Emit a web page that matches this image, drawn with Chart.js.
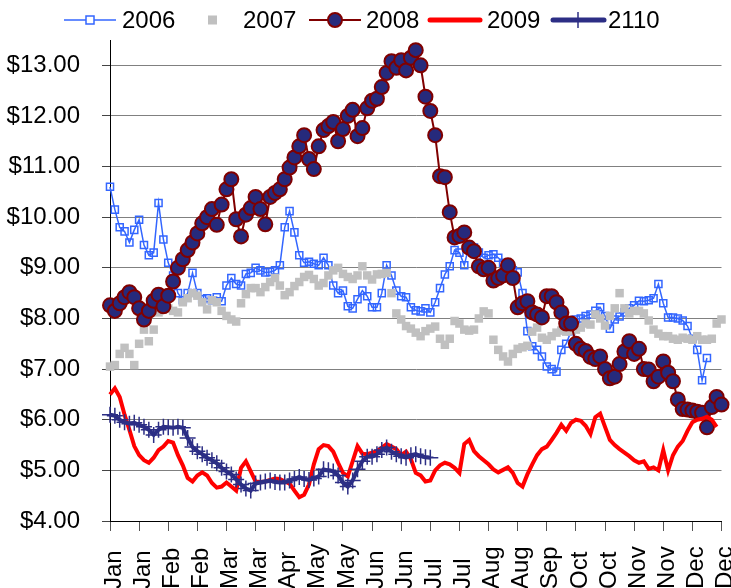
<!DOCTYPE html>
<html>
<head>
<meta charset="utf-8">
<script src="https://cdn.jsdelivr.net/npm/chart.js@4.4.0/dist/chart.umd.min.js"></script>
<style>
  html, body { margin: 0; padding: 0; background: #fff; }
</style>
</head>
<body>
<canvas id="priceChart" width="731" height="588"></canvas>
<script>
// tick labels, one every 6 points (roughly every half month)
const monthTicks = ["Jan", "Jan", "Feb", "Feb", "Mar", "Mar", "Apr", "May", "May", "Jun", "Jun",
  "Jul", "Jul", "Aug", "Aug", "Sep", "Oct", "Oct", "Nov", "Nov", "Dec", "Dec"];
const pointsPerTick = 6;

const price2006 = [10.6, 10.15, 9.8, 9.72, 9.5, 9.75, 9.95, 9.45, 9.25, 9.3,
  10.28, 9.56, 9.1, 8.85, 8.5, 8.36, 8.5, 8.9, 8.5, 8.38,
  8.4, 8.36, 8.42, 8.34, 8.65, 8.8, 8.68, 8.65, 8.88, 8.9,
  9.0, 8.95, 8.91, 8.92, 8.95, 9.05, 9.8, 10.12, 9.7, 9.25,
  9.1, 9.12, 9.08, 9.05, 9.2, 9.05, 8.65, 8.5, 8.55, 8.24,
  8.2, 8.38, 8.55, 8.44, 8.22, 8.22, 8.5, 9.05, 8.85, 8.55,
  8.44, 8.42, 8.22, 8.16, 8.14, 8.2, 8.12, 8.32, 8.6, 8.87,
  9.03, 9.35, 9.3, 9.05, 9.45, 9.4, 9.3, 9.2, 9.25, 9.27,
  9.2, 9.1, 9.0, 8.95, 8.91, 8.5, 7.75, 7.45, 7.38, 7.25,
  7.05, 7.0, 6.95, 7.38, 7.5, 7.75, 7.98, 8.0, 8.05, 8.08,
  8.15, 8.22, 8.05, 7.8, 7.98, 8.04, 8.12, 8.2, 8.26, 8.35,
  8.34, 8.36, 8.4, 8.68, 8.3, 8.02, 8.02, 8.0, 7.96, 7.85,
  7.6, 7.38, 6.78, 7.22];

const price2007 = [7.05, 7.08, 7.3, 7.42, 7.3, 7.08, 7.5, 7.78, 7.55, 7.78,
  8.12, 8.3, 8.2, 8.15, 8.12, 8.32, 8.4, 8.5, 8.45, 8.32,
  8.18, 8.36, 8.32, 8.15, 8.05, 7.98, 7.94, 8.3, 8.48, 8.6,
  8.6, 8.52, 8.62, 8.72, 8.8, 8.65, 8.46, 8.52, 8.64, 8.72,
  8.82, 8.86, 8.78, 8.65, 8.7, 8.85, 8.95, 9.0, 8.88, 8.82,
  8.78, 8.85, 9.03, 8.85, 8.77, 8.87, 8.88, 8.9, 8.5, 8.1,
  7.98, 7.85, 7.8, 7.72, 7.65, 7.75, 7.8, 7.84, 7.6, 7.48,
  7.6, 7.95, 7.9, 7.78, 7.76, 7.78, 8.0, 8.14, 8.1, 7.58,
  7.38, 7.25, 7.15, 7.3, 7.4, 7.43, 7.46, 7.74, 7.82, 7.62,
  7.58, 7.65, 7.72, 7.76, 7.74, 7.76, 7.78, 7.82, 7.9, 7.88,
  8.08, 8.0, 7.86, 8.05, 8.2, 8.5, 8.2, 8.1, 8.15, 8.15,
  8.1, 7.96, 7.78, 7.7, 7.65, 7.65, 7.6, 7.58, 7.62, 7.6,
  7.58, 7.65, 7.58, 7.58, 7.6, 7.9, 7.98];

const price2008 = [8.26, 8.15, 8.3, 8.42, 8.52, 8.42, 8.2, 7.98, 8.15, 8.35,
  8.47, 8.24, 8.45, 8.73, 9.0, 9.17, 9.35, 9.5, 9.68, 9.88,
  10.0, 10.16, 9.85, 10.25, 10.55, 10.75, 9.96, 9.62, 10.05, 10.18,
  10.4, 10.16, 9.86, 10.4, 10.48, 10.55, 10.75, 10.98, 11.18, 11.4,
  11.62, 11.15, 10.95, 11.4, 11.72, 11.8, 11.88, 11.5, 11.74, 12.0,
  12.12, 11.6, 11.76, 12.15, 12.3, 12.34, 12.57, 12.85, 13.08, 12.95,
  13.1, 12.9, 13.15, 13.3, 13.0, 12.38, 12.1, 11.62, 10.81, 10.79,
  10.1, 9.6, 9.63, 9.7, 9.4, 9.33, 9.03, 8.97, 9.0, 8.75,
  8.8, 8.85, 9.05, 8.8, 8.22, 8.3, 8.34, 8.12, 8.08, 8.02,
  8.44, 8.44, 8.32, 8.12, 7.9, 7.9, 7.5, 7.4, 7.36, 7.24,
  7.2, 7.25, 7.0, 6.82, 6.85, 7.1, 7.35, 7.55, 7.3, 7.4,
  7.0, 6.99, 6.76, 6.85, 7.15, 6.93, 6.76, 6.4, 6.21, 6.2,
  6.18, 6.16, 6.14, 5.85, 6.25, 6.45, 6.3];

const price2009 = [6.5, 6.62, 6.45, 6.1, 5.8, 5.48, 5.3, 5.2, 5.15, 5.25,
  5.4, 5.47, 5.58, 5.55, 5.3, 5.1, 4.85, 4.78, 4.9, 4.96,
  4.9, 4.75, 4.66, 4.68, 4.76, 4.68, 4.6, 5.05, 5.18, 4.98,
  4.78, 4.77, 4.78, 4.81, 4.84, 4.83, 4.78, 4.74, 4.6, 4.47,
  4.52, 4.72, 5.12, 5.42, 5.5, 5.48, 5.37, 5.15, 4.95, 4.88,
  5.18, 5.48, 5.33, 5.32, 5.35, 5.38, 5.45, 5.52, 5.47, 5.42,
  5.3, 5.37, 5.22, 4.95, 4.9, 4.78, 4.8, 5.0, 5.1, 5.15,
  5.12, 5.05, 4.95, 5.52, 5.6, 5.38, 5.28, 5.2, 5.12, 5.02,
  4.96, 5.01, 5.06, 4.95, 4.75, 4.68, 4.92, 5.12, 5.3, 5.42,
  5.47, 5.6, 5.74, 5.9, 5.78, 5.94, 6.0, 5.98, 5.88, 5.72,
  6.05, 6.12, 5.86, 5.6, 5.5, 5.42, 5.35, 5.28, 5.2, 5.15,
  5.18, 5.03, 5.06, 5.0, 5.4, 5.0, 5.3, 5.47, 5.58, 5.78,
  5.95, 6.0, 6.02, 6.06, 6.0, 5.86];

const price2110 = [6.1, 6.08, 6.0, 5.95, 5.92, 5.94, 5.9, 5.86, 5.8, 5.7,
  5.8, 5.86, 5.85, 5.84, 5.86, 5.84, 5.64, 5.46, 5.38, 5.32,
  5.25, 5.2, 5.14, 5.05, 4.98, 4.92, 4.82, 4.72, 4.64, 4.6,
  4.74, 4.76, 4.78, 4.8, 4.77, 4.76, 4.76, 4.8, 4.83, 4.87,
  4.83, 4.81, 4.84, 4.88, 5.02, 5.0, 4.98, 4.9, 4.76, 4.68,
  4.8, 5.02, 5.18, 5.27, 5.27, 5.32, 5.4, 5.45, 5.37, 5.32,
  5.28, 5.25, 5.3, 5.32, 5.28, 5.26, 5.25];

const FONT = "'Liberation Sans', Arial, sans-serif";
const toPoints = (arr) => arr.map((v, i) => ({ x: i, y: v }));

// legend drawn like the Excel one: line sample with the marker in the middle
const legendPlugin = {
  id: "excelLegend",
  afterDraw(chart) {
    const ctx = chart.ctx;
    const y = 20;
    ctx.save();
    ctx.font = "24px " + FONT;
    ctx.textBaseline = "middle";
    ctx.textAlign = "left";

    // 2006
    ctx.strokeStyle = "#3366ff";
    ctx.lineWidth = 1.5;
    ctx.beginPath(); ctx.moveTo(64, y); ctx.lineTo(116, y); ctx.stroke();
    ctx.fillStyle = "#fff";
    ctx.fillRect(86, y - 4, 8, 8);
    ctx.strokeRect(86, y - 4, 8, 8);
    // 2007
    ctx.fillStyle = "#c0c0c0";
    ctx.fillRect(208, y - 4.5, 9, 9);
    // 2008
    ctx.strokeStyle = "#800000";
    ctx.lineWidth = 2;
    ctx.beginPath(); ctx.moveTo(309, y); ctx.lineTo(361, y); ctx.stroke();
    ctx.fillStyle = "#262a7c";
    ctx.beginPath(); ctx.arc(335, y, 7, 0, Math.PI * 2); ctx.fill(); ctx.stroke();
    // 2009
    ctx.lineCap = "round";
    ctx.strokeStyle = "#ff0000";
    ctx.lineWidth = 5;
    ctx.beginPath(); ctx.moveTo(430, y); ctx.lineTo(480, y); ctx.stroke();
    // 2110
    ctx.strokeStyle = "#2c2e85";
    ctx.beginPath(); ctx.moveTo(553, y); ctx.lineTo(604, y); ctx.stroke();
    ctx.lineCap = "butt";
    ctx.lineWidth = 1.5;
    ctx.beginPath(); ctx.moveTo(578, y - 8); ctx.lineTo(578, y + 8); ctx.stroke();

    ctx.fillStyle = "#000";
    ctx.fillText("2006", 122, y + 1);
    ctx.fillText("2007", 243, y + 1);
    ctx.fillText("2008", 366, y + 1);
    ctx.fillText("2009", 487, y + 1);
    ctx.fillText("2110", 608, y + 1);
    ctx.restore();
  }
};

// rotated month labels, start of each word sits at the bottom edge
const monthLabelPlugin = {
  id: "monthLabels",
  afterDraw(chart) {
    const xs = chart.scales.x;
    const ctx = chart.ctx;
    ctx.save();
    ctx.font = "24px " + FONT;
    ctx.fillStyle = "#000";
    ctx.textAlign = "left";
    ctx.textBaseline = "middle";
    xs.ticks.forEach((t) => {
      const label = monthTicks[Math.round(t.value / pointsPerTick)];
      if (!label) return;
      ctx.save();
      ctx.translate(xs.getPixelForValue(t.value) + 4, 589);
      ctx.rotate(-Math.PI / 2);
      ctx.fillText(label, 0, 0);
      ctx.restore();
    });
    ctx.restore();
  }
};

const ctx = document.getElementById("priceChart").getContext("2d");
const priceChart = new Chart(ctx, {
  type: "line",
  data: {
    datasets: [
      {
        label: "2006",
        data: toPoints(price2006),
        borderColor: "#3366ff",
        borderWidth: 1.5,
        pointStyle: "rect",
        pointRadius: 5,
        pointBorderWidth: 1.5,
        pointBorderColor: "#3366ff",
        pointBackgroundColor: "rgba(255,255,255,0)",
        order: 5,
      },
      {
        label: "2007",
        data: toPoints(price2007),
        showLine: false,
        borderColor: "#c0c0c0",
        pointStyle: "rect",
        pointRadius: 6,
        pointBorderWidth: 0,
        pointBackgroundColor: "#c0c0c0",
        order: 4,
      },
      {
        label: "2008",
        data: toPoints(price2008),
        borderColor: "#800000",
        borderWidth: 2,
        pointRadius: 7,
        pointBorderWidth: 2,
        pointBorderColor: "#800000",
        pointBackgroundColor: "#262a7c",
        order: 3,
      },
      {
        label: "2009",
        data: toPoints(price2009),
        borderColor: "#ff0000",
        borderWidth: 4,
        pointRadius: 0,
        order: 2,
      },
      {
        label: "2110",
        data: toPoints(price2110),
        borderColor: "#2c2e85",
        borderWidth: 4,
        pointStyle: "cross",
        pointRadius: 8,
        pointBorderWidth: 1.5,
        pointBorderColor: "#2c2e85",
        order: 1,
      },
    ],
  },
  options: {
    responsive: false,
    animation: false,
    events: [],
    layout: { padding: { top: 40, right: 9, left: 0, bottom: 0 } },
    elements: { line: { tension: 0 } },
    datasets: { line: { clip: false } },
    plugins: {
      legend: { display: false },
      tooltip: { enabled: false },
    },
    scales: {
      x: {
        type: "linear",
        min: 0,
        max: (monthTicks.length - 1) * pointsPerTick,
        ticks: { stepSize: pointsPerTick, display: false, autoSkip: false },
        grid: { drawOnChartArea: false, drawTicks: true, tickLength: 10, color: "#555" },
        border: { display: true, color: "#000", width: 1 },
        afterFit: (scale) => {
          scale.height = 67;
          scale.paddingLeft = 0;
          scale.paddingRight = 0;
        },
      },
      y: {
        min: 4,
        max: 13.5,
        ticks: {
          stepSize: 1,
          includeBounds: false,
          padding: 22,
          color: "#000",
          font: { family: FONT, size: 24 },
          callback: (v) => (v % 1 === 0 ? "$" + v.toFixed(2) : null),
        },
        grid: { color: "#808080", lineWidth: 1, tickLength: 8, tickColor: "#444" },
        border: { display: true, color: "#000", width: 1 },
        afterFit: (scale) => {
          scale.width = 110;
        },
      },
    },
  },
  plugins: [legendPlugin, monthLabelPlugin],
});
</script>
</body>
</html>
